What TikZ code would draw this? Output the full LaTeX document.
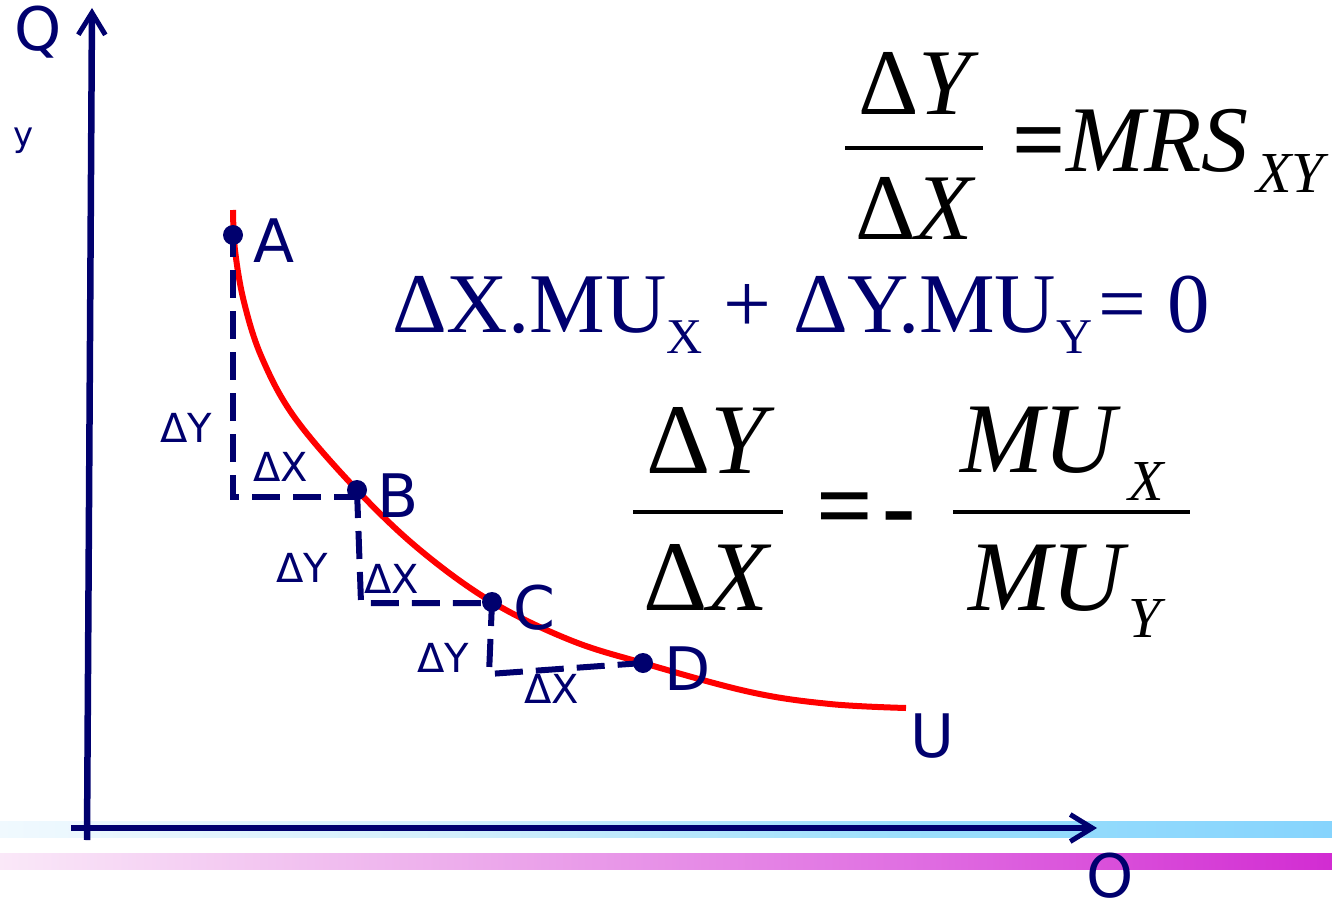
\documentclass[tikz,border=0pt]{standalone}
\usepackage{fontspec}
\setmainfont{Liberation Serif}
\setsansfont{DejaVu Sans}
\usetikzlibrary{arrows.meta}
\definecolor{axisnavy}{RGB}{0,0,110}
\definecolor{curvered}{RGB}{255,0,0}
\definecolor{bbA}{HTML}{F0F9FE}
\definecolor{bbB}{HTML}{D3EFFC}
\definecolor{bbC}{HTML}{9CDFFC}
\definecolor{bbD}{HTML}{86D4FD}
\definecolor{pbA}{HTML}{FAE8F8}
\definecolor{pbB}{HTML}{EDAEEC}
\definecolor{pbC}{HTML}{E070E2}
\definecolor{pbD}{HTML}{D22CD2}
\pgfdeclarehorizontalshading{blueband}{100bp}{color(0bp)=(bbA); color(25bp)=(bbA); color(41.9bp)=(bbB); color(58.8bp)=(bbC); color(75bp)=(bbD); color(100bp)=(bbD)}
\pgfdeclarehorizontalshading{pinkband}{100bp}{color(0bp)=(pbA); color(25bp)=(pbA); color(41.9bp)=(pbB); color(58.8bp)=(pbC); color(75bp)=(pbD); color(100bp)=(pbD)}
\tikzset{
  axisline/.style={draw=axisnavy, line width=6.5pt, -{Straight Barb[length=22pt,width=27pt,line width=5pt]}},
  curveline/.style={draw=curvered, line width=6pt},
  dashline/.style={draw=axisnavy, line width=6pt, dash pattern=on 28pt off 13pt},
  ptdot/.style={circle, fill=axisnavy, inner sep=0pt, minimum size=20pt},
  bigl/.style={font=\sffamily\fontsize{60}{60}\selectfont, text=axisnavy, inner sep=0pt, anchor=base},
  smalll/.style={font=\sffamily\fontsize{40}{40}\selectfont, text=axisnavy, inner sep=0pt, anchor=base},
  frmA/.style={font=\fontsize{94}{94}\selectfont, inner sep=0pt, anchor=base west},
  frmB/.style={font=\fontsize{100}{100}\selectfont, inner sep=0pt, anchor=base west},
  frmsub/.style={font=\fontsize{58}{58}\selectfont, inner sep=0pt, anchor=base west},
  fracbar/.style={line width=4pt, draw=black}
}
\begin{document}
\begin{tikzpicture}[x=1pt,y=-1pt]
\useasboundingbox (0,0) rectangle (1332,901);
% gradient bands
\shade[shading=blueband] (0,821) rectangle (1332,837);
\shade[shading=pinkband] (0,853) rectangle (1332,869);
% axes
\coordinate (yb) at (87,840);
\coordinate (yt) at (92,8);
\coordinate (xl) at (71,828);
\coordinate (xr) at (1097,828);
\draw[axisline] (yb) -- (yt);
\draw[axisline] (xl) -- (xr);
\node[bigl] (Q) at (38,51) {Q};
\node[font=\sffamily\fontsize{34}{34}\selectfont, text=axisnavy, inner sep=0pt, anchor=base] (ylab) at (24,147) {y};
\node[bigl] (O) at (1110,897) {O};
% indifference curve
\draw[curveline] plot[smooth, tension=0.6] coordinates {(233,210) (235,250) (244,302) (262,358) (295,418) (357,490) (420,550) (492,602) (570,640) (643,663) (750,692) (830,704) (906,708)};
\node[bigl] (U) at (932,757) {U};
% points
\node[ptdot] (A) at (233,235) {};
\node[ptdot] (B) at (357,490) {};
\node[ptdot] (C) at (492,602) {};
\node[ptdot] (D) at (643,663) {};
\node[bigl] (lA) at (274,262) {A};
\node[bigl] (lB) at (398,517) {B};
\node[bigl] (lC) at (534,629) {C};
\node[bigl] (lD) at (688,690) {D};
% dashed steps
\coordinate (c1) at (233,497);
\coordinate (c2) at (361,603);
\coordinate (c3) at (489,674);
\draw[dashline, dash phase=6pt] (A.center) -- (c1) -- (c1 -| B);
\draw[dashline] (B.center) -- (c2) -- (c2 -| C);
\draw[dashline, dash phase=4pt] (C.center) -- (c3) -- (D.center);
\node[smalll] (dy1) at (186,442) {ΔY};
\node[smalll] (dx1) at (281,481) {ΔX};
\node[smalll] (dy2) at (302,582) {ΔY};
\node[smalll] (dx2) at (392,593) {ΔX};
\node[smalll] (dy3) at (443,672) {ΔY};
\node[smalll] (dx3) at (552,703) {ΔX};
% top formula
\node[frmA] (f1n) at (858,115) {Δ\textit{Y}};
\draw[fracbar] (845,148) -- (983,148);
\node[frmA] (f1d) at (855,240) {Δ\textit{X}};
\node[frmA] (f1eq) at (1012,172) {\textbf{=}};
\node[frmA] (f1r) at (1066,172) {\textit{MRS}};
\node[frmsub] (f1s) at (1256,193) {\textit{XY}};
% middle formula
\node[font=\fontsize{85}{85}\selectfont, text=axisnavy, inner sep=0pt, anchor=base west] (f2) at (392,332)
  {ΔX.MU\raisebox{-21pt}{\fontsize{50}{50}\selectfont X} + ΔY.MU\raisebox{-21pt}{\fontsize{50}{50}\selectfont Y}\kern6pt= 0};
% lower formula
\node[frmB] (f3n) at (646,473) {Δ\textit{Y}};
\draw[fracbar] (633,512) -- (783,512);
\node[frmB] (f3d) at (643,610) {Δ\textit{X}};
\node[frmB] (f3eq) at (816,539) {\textbf{=}};
\node[frmB] (f3m) at (882,539) {\textbf{-}};
\draw[fracbar] (953,512) -- (1190,512);
\node[frmB] (f3rn) at (960,472) {\textit{MU}};
\node[frmsub] (f3rns) at (1128,500) {\textit{X}};
\node[frmB] (f3rd) at (968,610) {\textit{MU}};
\node[frmsub] (f3rds) at (1128,637) {\textit{Y}};
\end{tikzpicture}
\end{document}
